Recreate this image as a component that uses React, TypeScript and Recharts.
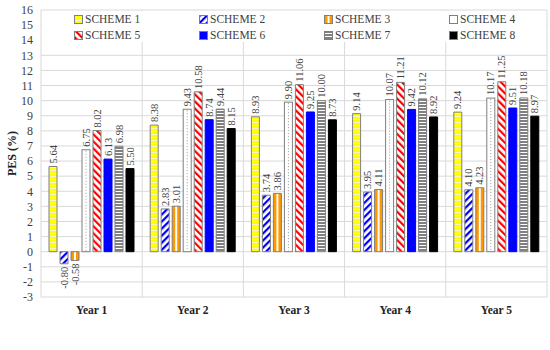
import React from 'react';
import { BarChart, Bar, CartesianGrid, XAxis, YAxis, Legend, LabelList } from 'recharts';

const years = ['Year 1', 'Year 2', 'Year 3', 'Year 4', 'Year 5'];
const scheme1 = [5.64, 8.38, 8.93, 9.14, 9.24];
const scheme2 = [-0.8, 2.83, 3.74, 3.95, 4.1];
const scheme3 = [-0.58, 3.01, 3.86, 4.11, 4.23];
const scheme4 = [6.75, 9.43, 9.9, 10.07, 10.17];
const scheme5 = [8.02, 10.58, 11.06, 11.21, 11.25];
const scheme6 = [6.13, 8.74, 9.25, 9.42, 9.51];
const scheme7 = [6.98, 9.44, 10.0, 10.12, 10.18];
const scheme8 = [5.5, 8.15, 8.73, 8.92, 8.97];
const yTicks = [-3, -2, -1, 0, 1, 2, 3, 4, 5, 6, 7, 8, 9, 10, 11, 12, 13, 14, 15, 16];

const seriesList = [
  { key: 's1', name: 'SCHEME 1', values: scheme1, fill: 'url(#p1)', stroke: '#7f7f7f' },
  { key: 's2', name: 'SCHEME 2', values: scheme2, fill: 'url(#p2)', stroke: '#7f7f7f' },
  { key: 's3', name: 'SCHEME 3', values: scheme3, fill: 'url(#p3)', stroke: '#7f7f7f' },
  { key: 's4', name: 'SCHEME 4', values: scheme4, fill: '#ffffff', stroke: '#7f7f7f' },
  { key: 's5', name: 'SCHEME 5', values: scheme5, fill: 'url(#p5)', stroke: '#7f7f7f' },
  { key: 's6', name: 'SCHEME 6', values: scheme6, fill: '#0000ff', stroke: '#0000ff' },
  { key: 's7', name: 'SCHEME 7', values: scheme7, fill: 'url(#p7)', stroke: '#7f7f7f' },
  { key: 's8', name: 'SCHEME 8', values: scheme8, fill: '#000000', stroke: '#000000' },
];

const data = years.map((year, i) => {
  const row: Record<string, string | number> = { year };
  seriesList.forEach((s) => {
    row[s.key] = s.values[i];
  });
  return row;
});

const FONT = '"Liberation Serif", "Times New Roman", serif';
const TEXT = '#404040';

const BarValue = (props: any) => {
  const { x, y, width, height, value } = props;
  if (value === undefined || value === null) return null;
  const cx = Number(x) + Number(width) / 2;
  const top = Math.min(Number(y), Number(y) + Number(height));
  const bottom = Math.max(Number(y), Number(y) + Number(height));
  const neg = Number(value) < 0;
  const ty = neg ? bottom + 3 : top - 3;
  return (
    <text
      x={cx}
      y={ty}
      dy="0.35em"
      transform={`rotate(-90, ${cx}, ${ty})`}
      textAnchor={neg ? 'end' : 'start'}
      fontSize={10.5}
      fontFamily={FONT}
      fill={TEXT}
    >
      {Number(value).toFixed(2)}
    </text>
  );
};

// white bar with a dotted line down the middle (scheme 4)
const DottedBar = (props: any) => {
  const { x, y, width, height } = props;
  const top = Math.min(Number(y), Number(y) + Number(height));
  const h = Math.abs(Number(height));
  const cx = Number(x) + Number(width) / 2;
  return (
    <g>
      <rect x={x} y={top} width={width} height={h} fill="#ffffff" stroke="#7f7f7f" />
      <line x1={cx} x2={cx} y1={top + 1} y2={top + h - 1} stroke="#9a9a9a" strokeDasharray="1 2" />
    </g>
  );
};

const LegendGrid = (props: any) => {
  const payload = props.payload || [];
  return (
    <div
      style={{
        display: 'grid',
        gridTemplateColumns: 'repeat(4, 125px)',
        paddingLeft: 32,
        paddingTop: 0,
        background: '#fff',
        height: '100%',
        fontFamily: FONT,
        fontSize: 11.5,
        color: TEXT,
        boxSizing: 'border-box',
      }}
    >
      {payload.map((entry: any) => (
        <div key={entry.value} style={{ display: 'flex', alignItems: 'center', height: 16 }}>
          <svg width={9} height={9} style={{ marginRight: 2 }}>
            <rect x={0.5} y={0.5} width={8} height={8} fill={entry.color} stroke="#7f7f7f" />
          </svg>
          <span>{entry.value}</span>
        </div>
      ))}
    </div>
  );
};

const YTitle = (props: any) => {
  const vb = props.viewBox || {};
  const cx = 12;
  const cy = Number(vb.y) + Number(vb.height) / 2;
  return (
    <text
      x={cx}
      y={cy}
      dy="0.35em"
      transform={`rotate(-90, ${cx}, ${cy})`}
      textAnchor="middle"
      fontSize={12}
      fontWeight="bold"
      fontFamily={FONT}
      fill="#222"
    >
      PES (%)
    </text>
  );
};

const App: React.FC = () => (
  <div style={{ position: 'absolute', left: 0, top: 0, width: 550, height: 350, background: '#fff' }}>
    <BarChart
      width={550}
      height={350}
      data={data}
      margin={{ top: 10, right: 3, bottom: 23, left: 0 }}
      barCategoryGap={8}
      barGap={3}
    >
      <defs>
        <pattern id="p1" patternUnits="userSpaceOnUse" width={4} height={3}>
          <rect width={4} height={3} fill="#ffff00" />
          <rect y={2} width={4} height={1} fill="#f4f4c8" />
        </pattern>
        <pattern id="p2" patternUnits="userSpaceOnUse" width={5} height={5} patternTransform="rotate(45)">
          <rect width={5} height={5} fill="#ffffff" />
          <rect width={2.2} height={5} fill="#0000ff" />
        </pattern>
        <pattern id="p3" patternUnits="objectBoundingBox" patternContentUnits="objectBoundingBox" width={1} height={1}>
          <rect width={1} height={1} fill="#ff9900" />
          <rect x={0.38} width={0.24} height={1} fill="#ffffff" />
        </pattern>
        <pattern id="p5" patternUnits="userSpaceOnUse" width={5} height={5} patternTransform="rotate(-45)">
          <rect width={5} height={5} fill="#ffffff" />
          <rect width={2.2} height={5} fill="#ff0000" />
        </pattern>
        <pattern id="p7" patternUnits="userSpaceOnUse" width={4} height={3}>
          <rect width={4} height={3} fill="#808080" />
          <rect y={2} width={4} height={1} fill="#ffffff" />
        </pattern>
      </defs>
      <CartesianGrid
        stroke="#d9d9d9"
        horizontal
        vertical
        verticalCoordinatesGenerator={({ offset }: any) =>
          Array.from({ length: years.length + 1 }, (_, i) => offset.left + (i * offset.width) / years.length)
        }
      />
      <XAxis
        dataKey="year"
        axisLine={false}
        tickLine={false}
        tickSize={0}
        tickMargin={9}
        tick={{ fontSize: 11.5, fontWeight: 'bold', fontFamily: FONT, fill: '#222' }}
      />
      <YAxis
        width={41}
        domain={[-3, 16]}
        ticks={yTicks}
        interval={0}
        axisLine={false}
        tickLine={false}
        tickSize={0}
        tickMargin={8}
        tick={{ fontSize: 12, fontFamily: FONT, fill: TEXT }}
        label={<YTitle />}
      />
      <Legend
        layout="vertical"
        align="center"
        verticalAlign="middle"
        content={<LegendGrid />}
        wrapperStyle={{ top: 11, left: 42, width: 504, height: 31 }}
      />
      {seriesList.map((s) => (
        <Bar
          key={s.key}
          dataKey={s.key}
          name={s.name}
          fill={s.fill}
          stroke={s.stroke}
          strokeWidth={1}
          shape={s.key === 's4' ? <DottedBar /> : undefined}
          isAnimationActive={false}
        >
          <LabelList dataKey={s.key} content={<BarValue />} />
        </Bar>
      ))}
    </BarChart>
  </div>
);

export default App;
